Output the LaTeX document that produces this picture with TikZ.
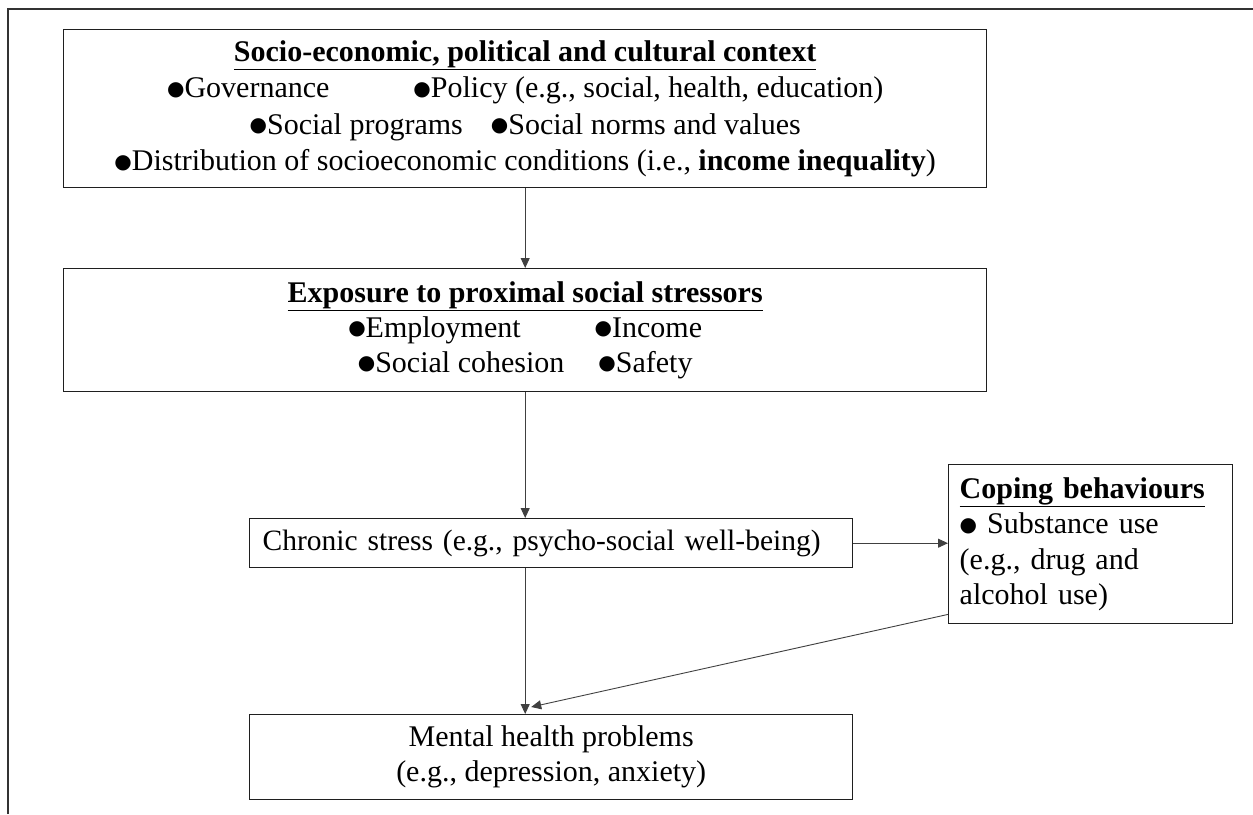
\documentclass[tikz,border=0pt]{standalone}
\usepackage{fontspec}
\setmainfont{Liberation Serif}
\newfontfamily\dejavu{DejaVu Sans}
\usetikzlibrary{arrows.meta,calc}
\newcommand{\bul}{\raisebox{2.5pt}{\dejavu\fontsize{20}{20}\selectfont ●}}
\begin{document}
\begin{tikzpicture}[x=1pt,y=-1pt,
  box/.style={draw=black!88, line width=1.4pt, rectangle, inner sep=0pt, anchor=north west},
  arr/.style={draw=black!75, line width=0.9pt, -{Triangle[length=10pt,width=9pt]}},
  font=\fontsize{30}{36.5}\selectfont]
\useasboundingbox (0,0) rectangle (1253,814);
\draw[line width=2pt, black!80] (8,814) -- (8,9) -- (1253,9);

\node[box, minimum width=923pt, minimum height=158pt, align=center] (ctx) at (63,29)
 {\underline{\textbf{Socio-economic, political and cultural context}}\\
  \bul Governance\hspace{84pt}\bul Policy (e.g., social, health, education)\\
  \bul Social programs\hspace{28pt}\bul Social norms and values\hspace*{48pt}\\
  \bul Distribution of socioeconomic conditions (i.e., \textbf{income inequality})};

\node[box, minimum width=923pt, minimum height=123pt, align=center, font=\fontsize{30}{35}\selectfont] (exp) at (63,268)
 {\underline{\textbf{Exposure to proximal social stressors}}\\
  \bul Employment\hspace{74pt}\bul Income\\
  \bul Social cohesion\hspace{34pt}\bul Safety};

\node[box, minimum height=49pt, text width=577pt, inner xsep=13pt, align=left, font=\fontsize{29.5}{36}\selectfont] (chr) at (249,518)
 {Chronic stress (e.g., psycho-social well-being)};

\node[box, minimum height=159pt, text width=262pt, inner xsep=11pt, align=left, font=\fontsize{30}{35.5}\selectfont] (cop) at (948,464)
 {\underline{\textbf{Coping behaviours}}\\
  \bul{} Substance use\\
  (e.g., drug and\\
  alcohol use)};

\node[box, minimum width=603pt, minimum height=85pt, align=center, font=\fontsize{30}{35}\selectfont] (men) at (249,714)
 {Mental health problems\\(e.g., depression, anxiety)};

\draw[arr] (ctx.south) -- (exp.north);
\draw[arr] (exp.south) -- (exp.south |- chr.north);
\draw[arr] (chr.south -| exp.south) -- (exp.south |- men.north);
\draw[arr] (chr.east) -- (chr.east -| cop.west);
\draw[arr] ($(cop.south west)+(0,-10)$) -- ($(exp.south |- men.north)+(6,-7)$);
\end{tikzpicture}
\end{document}
